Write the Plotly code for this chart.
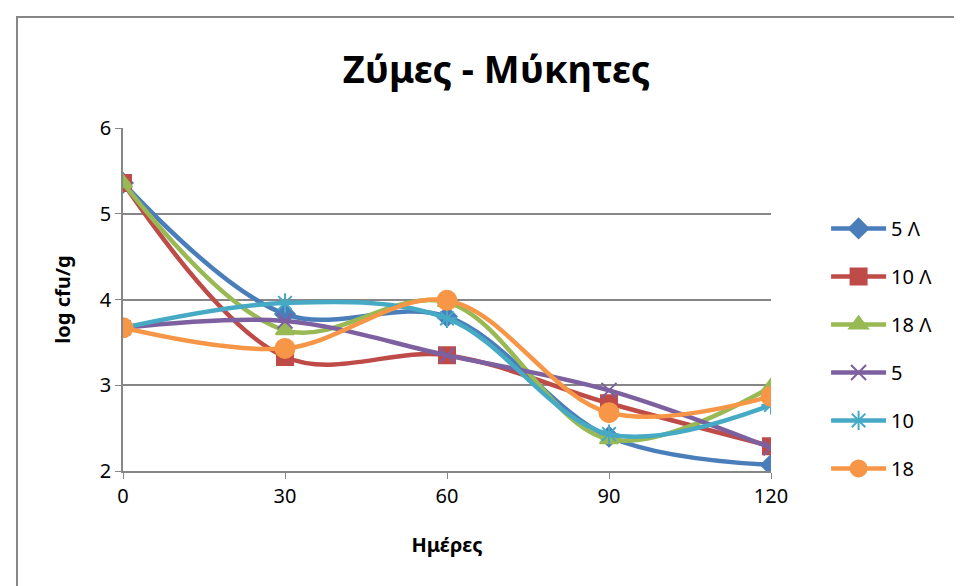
import plotly.graph_objects as go

# Days of sampling
days = [0, 30, 60, 90, 120]

# log cfu/g per series
s5L = [5.36, 3.83, 3.80, 2.40, 2.07]
s10L = [5.36, 3.33, 3.35, 2.79, 2.29]
s18L = [5.36, 3.64, 3.97, 2.37, 2.98]
s5 = [3.67, 3.75, 3.35, 2.94, 2.27]
s10 = [3.67, 3.96, 3.78, 2.43, 2.77]
s18 = [3.67, 3.43, 3.99, 2.68, 2.87]

names = ["5 Λ", "10 Λ", "18 Λ", "5", "10", "18"]
series = [s5L, s10L, s18L, s5, s10, s18]
colors = ["#4A7EBB", "#BE4B48", "#98B954", "#7D60A0", "#46AAC5", "#F79646"]
symbols = ["diamond", "square", "triangle-up", "x-thin", "asterisk-open", "circle"]
sizes = [15, 16, 16, 15, 16, 19]

FONT = "Noto Sans, Open Sans, sans-serif"

fig = go.Figure()
for i, (nm, ys) in enumerate(zip(names, series)):
    fig.add_trace(go.Scatter(
        x=days, y=ys, name=nm,
        mode="lines+markers",
        line=dict(color=colors[i], width=4.5, shape="spline", smoothing=1),
        marker=dict(symbol=symbols[i], size=sizes[i], color=colors[i],
                    line=dict(color=colors[i], width=2)),
        legendgroup=nm,
    ))

# outer chart frame (page body adds an 8px offset)
fig.add_shape(type="rect", xref="paper", yref="paper",
              x0=-0.1636, x1=1.31, y0=-0.35, y1=1.3236,
              line=dict(color="#868686", width=2), layer="below")

fig.update_layout(
    width=954, height=578,
    paper_bgcolor="white", plot_bgcolor="white",
    margin=dict(l=115, r=191, t=120, b=115),
    font=dict(family=FONT, color="black", size=20),
    title=dict(text="<b>Ζύμες - Μύκητες</b>", x=0.512, xanchor="center",
               y=0.893, yanchor="middle", font=dict(size=38, family=FONT)),
    xaxis=dict(range=[0, 120], tickvals=days, showgrid=False, zeroline=False,
               showline=True, linecolor="#868686", linewidth=1.5,
               ticks="outside", ticklen=6, tickcolor="#868686",
               title=dict(text="<b>Ημέρες</b>", font=dict(size=20), standoff=30)),
    yaxis=dict(range=[2, 6], dtick=1, showgrid=True, gridcolor="#868686",
               gridwidth=1.5, zeroline=False, showline=True,
               linecolor="#868686", linewidth=1.5,
               ticks="outside", ticklen=6, tickcolor="#868686",
               title=dict(text="<b>log cfu/g</b>", font=dict(size=20), standoff=24)),
    legend=dict(x=1.085, y=0.764, xanchor="left", yanchor="top",
                font=dict(size=20), itemwidth=55,
                traceorder="grouped", tracegroupgap=19,
                bgcolor="rgba(0,0,0,0)"),
)

fig.write_html("out.html")
